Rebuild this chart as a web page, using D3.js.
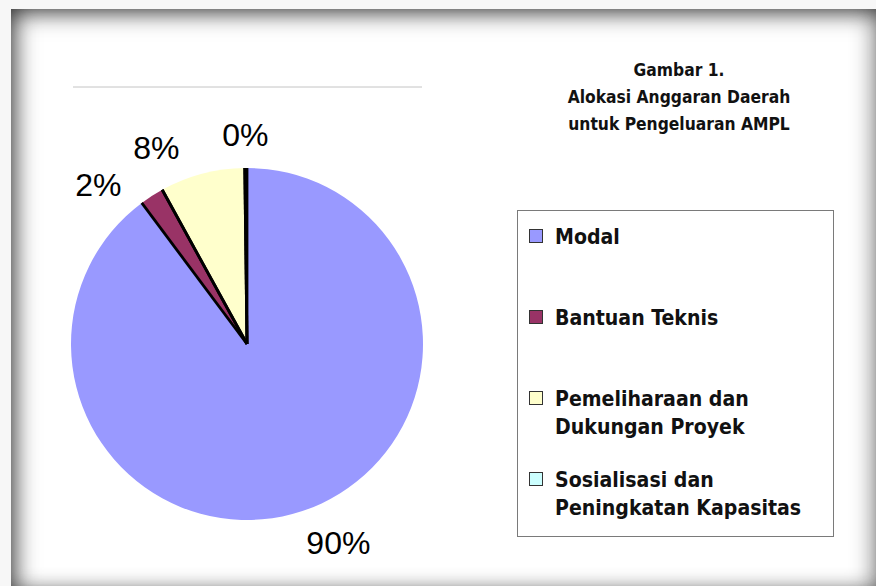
<!DOCTYPE html>
<html>
<head>
<meta charset="utf-8">
<script src="https://cdn.jsdelivr.net/npm/d3@7/dist/d3.min.js"></script>
<style>
  html, body { margin: 0; padding: 0; background: #f6f6f6; }
  #wrap { position: relative; width: 876px; height: 586px; overflow: hidden; background: #f7f7f7; }
  #frame {
    position: absolute; left: 11px; top: 9px; width: 868px; height: 580px;
    background: #ffffff;
    box-shadow:
      inset 12px 0 22px -6px rgba(0,0,0,0.55),
      inset 0 12px 22px -6px rgba(0,0,0,0.50),
      inset -16px 0 22px -8px rgba(0,0,0,0.32),
      inset 0 -14px 20px -10px rgba(0,0,0,0.14);
  }
  svg { position: absolute; left: 0; top: 0; }
</style>
</head>
<body>
<div id="wrap"><div id="frame"></div></div>
<script>
// ---- data ----
const categories = ["Modal", "Bantuan Teknis", "Pemeliharaan dan Dukungan Proyek", "Sosialisasi dan Peningkatan Kapasitas"];
const values = [89.8, 2.2, 7.8, 0.2];
const pctLabels = ["90%", "2%", "8%", "0%"];
const legendLines = [["Modal"], ["Bantuan Teknis"], ["Pemeliharaan dan", "Dukungan Proyek"], ["Sosialisasi dan", "Peningkatan Kapasitas"]];
const colors = ["#9999FF", "#993366", "#FFFFCC", "#CCFFFF"];
const titleLines = ["Gambar 1.", "Alokasi Anggaran Daerah", "untuk Pengeluaran AMPL"];

// ---- layout ----
const W = 876, H = 586;
const cx = 247, cy = 344, R = 176;
const uiFont = "'DejaVu Sans Condensed', 'DejaVu Sans', sans-serif";

const svg = d3.select("#wrap").append("svg").attr("width", W).attr("height", H);

// plot area top border
svg.append("line")
  .attr("x1", cx - R + 2).attr("x2", cx + R - 1)
  .attr("y1", cy - R - 81).attr("y2", cy - R - 81)
  .attr("stroke", "#c4c4c4").attr("stroke-width", 1);

const pie = d3.pie().sort(null).value(d => d)(values);
const arc = d3.arc().innerRadius(0).outerRadius(R);
const g = svg.append("g").attr("transform", `translate(${cx},${cy})`);

g.selectAll("path.slice").data(pie).join("path")
  .attr("class", "slice")
  .attr("d", arc)
  .attr("fill", (d, i) => colors[i]);

// black radial edges of the small slices
const edges = [];
pie.forEach((d, i) => { if (i > 0) { edges.push(d.startAngle, d.endAngle); } });
g.selectAll("line.edge").data(edges).join("line")
  .attr("class", "edge")
  .attr("x1", 0).attr("y1", 0)
  .attr("x2", a => R * Math.sin(a)).attr("y2", a => -R * Math.cos(a))
  .attr("stroke", "#000").attr("stroke-width", 2.8);

// percentage labels: mid-angles, small slices spread apart going counter-clockwise from top
const mids = pie.map(d => (d.startAngle + d.endAngle) / 2);
const minSep = 20 * Math.PI / 180;
const la = mids.slice();
for (let i = la.length - 2; i >= 1; i--) {
  la[i] = Math.min(la[i], la[i + 1] - minSep);
}
const LR = R + 18, fs = 32;
const labels = g.selectAll("text.pct").data(pie).join("text")
  .attr("class", "pct")
  .attr("text-anchor", "middle")
  .attr("dominant-baseline", "central")
  .attr("font-family", "'Liberation Sans', Arial, sans-serif")
  .attr("font-size", fs)
  .attr("fill", "#000")
  .text((d, i) => pctLabels[i]);
labels.each(function (d, i) {
  const w = this.getComputedTextLength();
  const h = fs * 0.95;
  const a = la[i];
  const px = LR * Math.sin(a), py = -LR * Math.cos(a);
  const kx = Math.max(-1, Math.min(1, 3 * Math.sin(a)));
  d3.select(this)
    .attr("x", px + kx * w / 2)
    .attr("y", py - Math.cos(a) * h / 2);
});

// title
const title = svg.append("text")
  .attr("text-anchor", "middle")
  .attr("font-family", uiFont)
  .attr("font-weight", "bold")
  .attr("font-size", 17.3)
  .attr("fill", "#111");
titleLines.forEach((t, i) => {
  title.append("tspan").attr("x", 679).attr("y", 70 + i * 27)
    .attr("dominant-baseline", "central").text(t);
});

// legend
const lx = 517, ly = 210, lw = 316, lh = 326;
svg.append("rect").attr("x", lx + 0.5).attr("y", ly + 0.5).attr("width", lw).attr("height", lh)
  .attr("fill", "#fff").attr("stroke", "#7a7a7a").attr("stroke-width", 1);

const ys = d3.scalePoint().domain(categories).range([236, 479]);
const items = svg.selectAll("g.leg").data(categories).join("g")
  .attr("class", "leg")
  .attr("transform", d => `translate(0,${ys(d)})`);
items.append("rect")
  .attr("x", 529.5).attr("y", -6.5).attr("width", 13).attr("height", 13)
  .attr("fill", (d, i) => colors[i]).attr("stroke", "#333").attr("stroke-width", 1);
items.each(function (d, i) {
  const t = d3.select(this).append("text")
    .attr("font-family", uiFont).attr("font-weight", "bold")
    .attr("font-size", 21.1).attr("fill", "#111");
  legendLines[i].forEach((line, k) => {
    t.append("tspan").attr("x", 555).attr("y", k * 28)
      .attr("dominant-baseline", "central").text(line);
  });
});
</script>
</body>
</html>
